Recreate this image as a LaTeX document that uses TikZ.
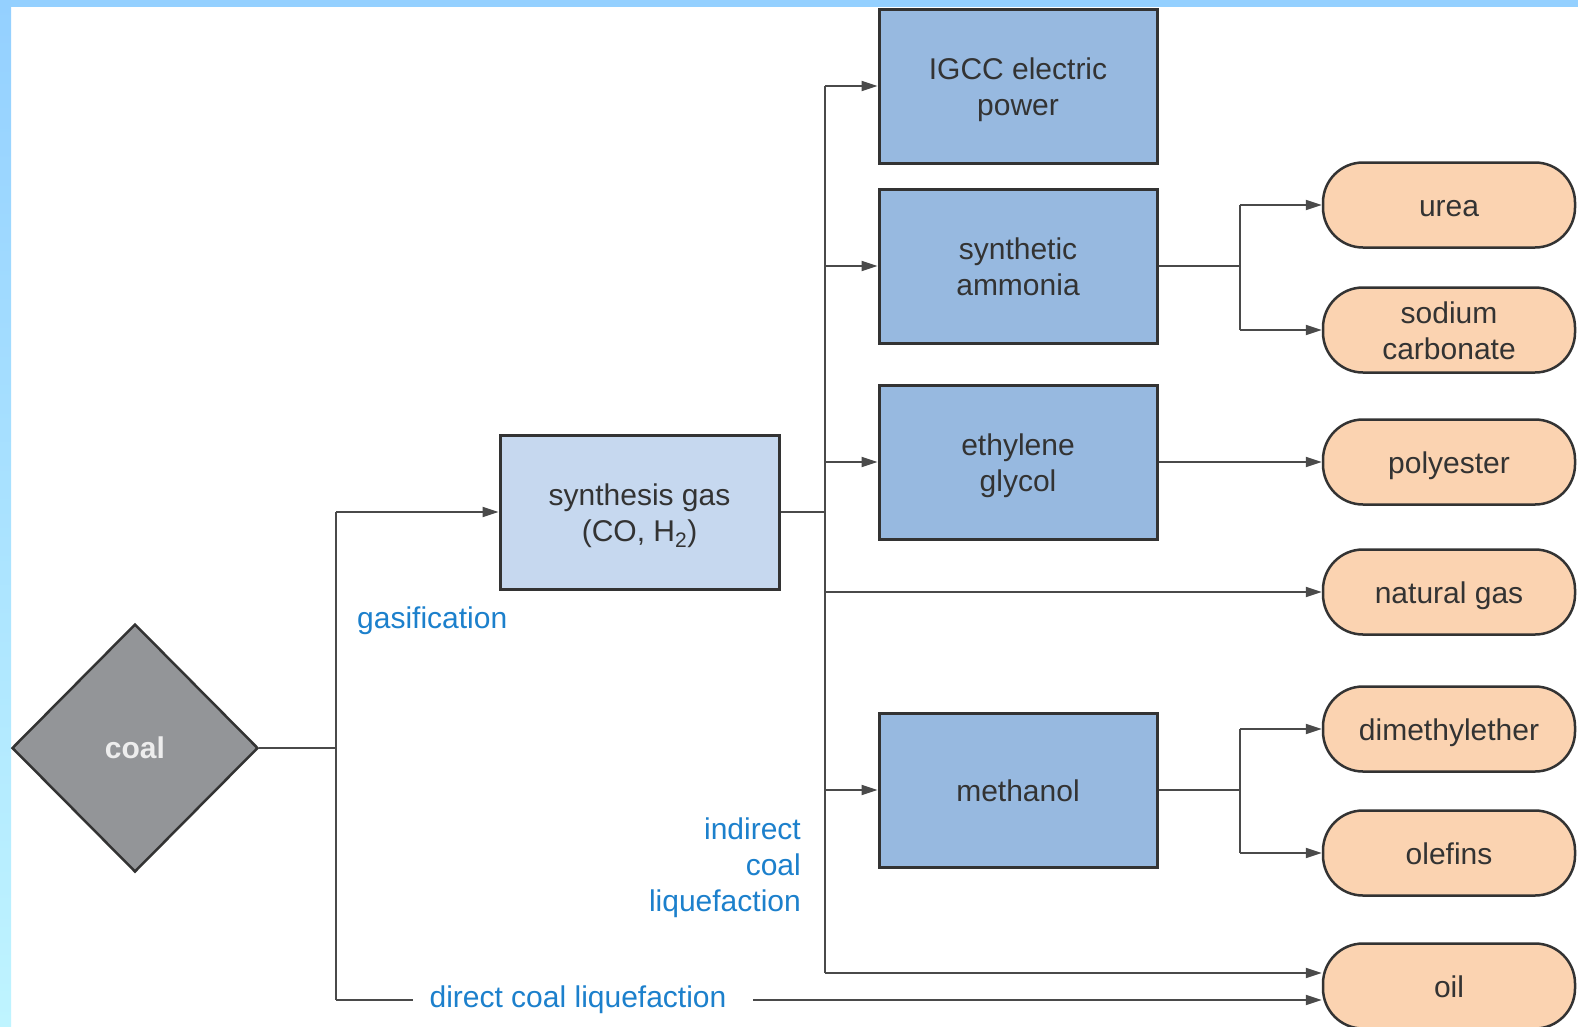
\documentclass[tikz,border=0pt]{standalone}
\usepackage{fontspec}
\setmainfont{Liberation Sans}
\usetikzlibrary{shapes.geometric,arrows.meta}
\definecolor{barblue}{HTML}{94D0FF}
\definecolor{barcyan}{HTML}{BFF4FF}
\definecolor{coalgray}{HTML}{939598}
\definecolor{synblue}{HTML}{C6D8EF}
\definecolor{boxblue}{HTML}{97B9E0}
\definecolor{ovalorange}{HTML}{FBD3B1}
\definecolor{linegray}{HTML}{4A4A4A}
\definecolor{edgegray}{HTML}{333333}
\definecolor{txtgray}{HTML}{333333}
\definecolor{lblblue}{HTML}{1C80CC}
\begin{document}
\begin{tikzpicture}[x=1pt,y=-1pt,
  every node/.style={font=\fontsize{30}{36}\selectfont, text=txtgray, align=center},
  conn/.style={draw=linegray, line width=2pt},
  arr/.style={conn, -{Triangle[length=16pt,width=10pt]}},
  oneline/.style={text height=22pt, text depth=0pt},
  twoline/.style={text height=58pt, text depth=0pt},
  synbox/.style={draw=edgegray, line width=3pt, fill=synblue, minimum width=279pt, minimum height=154pt, inner sep=0pt},
  procbox/.style={draw=edgegray, line width=3pt, fill=boxblue, minimum width=278pt, minimum height=154pt, inner sep=0pt},
  prodoval/.style={draw=edgegray, line width=2.5pt, fill=ovalorange, rounded corners=40pt, minimum width=252pt, minimum height=85pt, inner sep=0pt},
  lbl/.style={text=lblblue, inner sep=0pt}
]
\useasboundingbox (0,0) rectangle (1578,1026);
\fill[white] (0,0) rectangle (1578,1026);
\shade[top color=barblue, bottom color=barcyan] (0,0) rectangle (11,1026);
\fill[barblue] (0,0) rectangle (1578,7);

% coal
\node[diamond, draw=edgegray, line width=2.5pt, fill=coalgray, minimum width=246pt, minimum height=248pt, inner sep=0pt, font=\fontsize{30}{36}\selectfont\bfseries, text=white!93!black] (coal) at (135,748) {coal};

% synthesis gas
\node[synbox, twoline] (syn) at (639.5,512) {synthesis gas\\(CO, H\textsubscript{2})};

% process boxes
\node[procbox, twoline] (igcc) at (1018,86) {IGCC electric\\power};
\node[procbox, twoline] (amm) at (1018,266) {synthetic\\ammonia};
\node[procbox, twoline] (gly) at (1018,462) {ethylene\\glycol};
\node[procbox, oneline] (meth) at (1018,790) {methanol};

% products
\node[prodoval, oneline] (urea) at (1449,205) {urea};
\node[prodoval, twoline] (soda) at (1449,330) {sodium\\carbonate};
\node[prodoval, oneline] (poly) at (1449,462) {polyester};
\node[prodoval, oneline] (ng) at (1449,592) {natural gas};
\node[prodoval, oneline] (dme) at (1449,729) {dimethylether};
\node[prodoval, oneline] (olef) at (1449,853) {olefins};
\node[prodoval, oneline] (oil) at (1449,986) {oil};

% labels
\node[lbl, anchor=base west] (gasl) at (357,628) {gasification};
\node[lbl, anchor=base east, align=right] (icl) at (801,911) {indirect\\coal\\liquefaction};
\node[lbl, anchor=base] (dcl) at (578,1007) {direct coal liquefaction};

% junctions
\coordinate (j1) at (336,748);
\coordinate (jtop) at (336,512);
\coordinate (jbot) at (336,1000);
\coordinate (d1) at (413,1000);
\coordinate (d2) at (753,1000);
\coordinate (b0) at (825,512);
\coordinate (btop) at (825,86);
\coordinate (bng) at (825,592);
\coordinate (bbot) at (825,973);
\coordinate (ja) at (1240,266);
\coordinate (jau) at (1240,205);
\coordinate (jas) at (1240,330);
\coordinate (jm) at (1240,790);
\coordinate (jmd) at (1240,729);
\coordinate (jmo) at (1240,853);

% coal connectors
\draw[conn] (coal.east) -- (j1);
\draw[conn] (jtop) -- (jbot);
\draw[arr] (jtop) -- (syn.west);
\draw[conn] (jbot) -- (d1);
\draw[arr] (d2) -- (d2 -| oil.west);

% bus
\draw[conn] (syn.east) -- (b0);
\draw[conn] (btop) -- (bbot);
\draw[arr] (btop) -- (igcc.west);
\draw[arr] (btop |- amm.west) -- (amm.west);
\draw[arr] (btop |- gly.west) -- (gly.west);
\draw[arr] (btop |- meth.west) -- (meth.west);
\draw[arr] (bng) -- (ng.west);
\draw[arr] (bbot) -- (bbot -| oil.west);

% ammonia branch
\draw[conn] (amm.east) -- (ja);
\draw[conn] (jau) -- (jas);
\draw[arr] (jau) -- (urea.west);
\draw[arr] (jas) -- (soda.west);

% glycol
\draw[arr] (gly.east) -- (poly.west);

% methanol branch
\draw[conn] (meth.east) -- (jm);
\draw[conn] (jmd) -- (jmo);
\draw[arr] (jmd) -- (dme.west);
\draw[arr] (jmo) -- (olef.west);
\end{tikzpicture}
\end{document}
